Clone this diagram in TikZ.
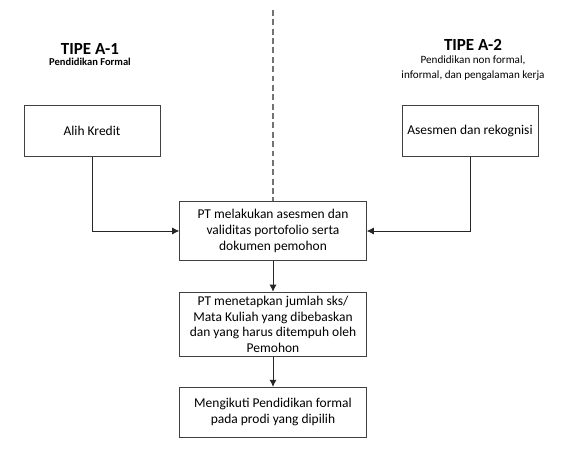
\documentclass[tikz,border=0pt]{standalone}
\usepackage{fontspec}
\setmainfont{Carlito}
\usetikzlibrary{positioning, arrows.meta}

\begin{document}
\begin{tikzpicture}[auto, x=0.03cm, y=-0.03cm, node distance=0.9cm, >={Latex[length=6pt,width=6pt]}]
  \tikzstyle{sidebox} = [draw=black!75, rectangle, minimum height=1.53cm, minimum width=4.08cm, font=\fontsize{11.5}{13}\selectfont]
  \tikzstyle{stepbox} = [draw=black!75, rectangle, minimum width=5.61cm, align=center, font=\fontsize{11.5}{13.5}\selectfont]
  \tikzstyle{judul} = [inner sep=1pt, font=\bfseries\fontsize{14.5}{16}\selectfont]
  \tikzstyle{ket} = [inner sep=1pt, align=center, font=\fontsize{9.5}{12.8}\selectfont]
  \tikzstyle{panah} = [->, black!85, line width=0.75pt]
  \useasboundingbox (0,0) rectangle (567,454);

  % tipe A-1
  \node [judul] (tipeA) at (90,49) {TIPE A-1};
  \node [ket, below=1pt of tipeA, font=\bfseries\fontsize{9}{10}\selectfont] (formal) {Pendidikan Formal};
  \node [sidebox] (alih) at (92,131) {Alih Kredit};

  % tipe A-2
  \node [judul] (tipeB) at (473,45) {TIPE A-2};
  \node [ket, below=2pt of tipeB] (nonformal) {Pendidikan non formal,\\ informal, dan pengalaman kerja};
  \node [sidebox] (asesmen) at (470,131) {Asesmen dan rekognisi};

  % alur tengah
  \node [stepbox, minimum height=1.77cm] (validasi) at (273,231) {PT melakukan asesmen dan\\ validitas portofolio serta\\ dokumen pemohon};
  \node [stepbox, below=0.93cm of validasi, minimum height=1.8cm] (sks) {PT menetapkan jumlah sks/\\ Mata Kuliah yang dibebaskan\\ dan yang harus ditempuh oleh\\ Pemohon};
  \node [stepbox, below=0.9cm of sks, minimum height=1.5cm] (ikuti) {Mengikuti Pendidikan formal\\ pada prodi yang dipilih};

  \coordinate (batas) at (273,10);
  \draw [black!55, dashed, line width=1pt, dash pattern=on 5pt off 3pt] (batas) -- (validasi.north);

  \draw [panah] (alih) |- (validasi);
  \draw [panah] (asesmen) |- (validasi);
  \draw [panah] (validasi) -- (sks);
  \draw [panah] (sks) -- (ikuti);
\end{tikzpicture}
\end{document}
